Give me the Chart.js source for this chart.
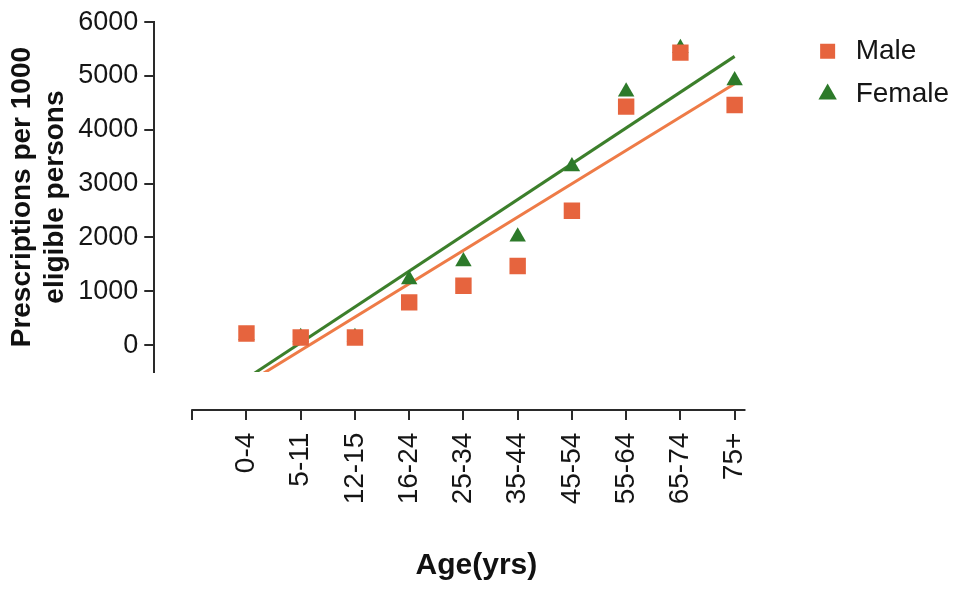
<!DOCTYPE html>
<html>
<head>
<meta charset="utf-8">
<script src="https://cdn.jsdelivr.net/npm/chart.js@4/dist/chart.umd.min.js"></script>
<style>
  html, body { margin: 0; padding: 0; background: #ffffff; }
  #wrap { width: 972px; height: 589px; position: relative; background: #ffffff; }
</style>
</head>
<body>
<div id="wrap"><canvas id="c"></canvas></div>
<script>
// ---- data ----
const categories   = ['0-4', '5-11', '12-15', '16-24', '25-34', '35-44', '45-54', '55-64', '65-74', '75+'];
const maleValues   = [215, 142, 142, 794, 1104, 1469, 2496, 4431, 5434, 4462];
const femaleValues = [185, 145, 145, 1221, 1555, 2011, 3319, 4706, 5515, 4918];
const seriesNames  = ['Male', 'Female'];
const yTickValues  = [0, 1000, 2000, 3000, 4000, 5000, 6000];
const xTickValues  = [-1, 0, 1, 2, 3, 4, 5, 6, 7, 8, 9];

// axis geometry (in data units)
const Y_MIN = -500, Y_MAX = 6000;
const X_MIN = -1.7, X_MAX = 10.18;
const X_AXIS_AT_Y = -1200;      // the detached x axis sits below the y axis
const X_AXIS_START = -1, X_AXIS_END = 9.2;

const FONT = "'Liberation Sans', Arial, Helvetica, sans-serif";
const TEXT = '#151515';
const AXIS = '#2a2a2a';
const MALE_PT = '#E6643E', MALE_LINE = '#EE7B47';
const FEMALE_PT = '#2D7A2A', FEMALE_LINE = '#3C7F2B';

function toPoints(values) { return values.map((v, i) => ({ x: i, y: v })); }

// least-squares linear regression over category index
function regression(values) {
  const n = values.length;
  const xs = values.map((_, i) => i);
  const mx = xs.reduce((a, b) => a + b, 0) / n;
  const my = values.reduce((a, b) => a + b, 0) / n;
  let sxy = 0, sxx = 0;
  for (let i = 0; i < n; i++) { sxy += (xs[i] - mx) * (values[i] - my); sxx += (xs[i] - mx) ** 2; }
  const slope = sxy / sxx;
  const intercept = my - slope * mx;
  return [0, n - 1].map(x => ({ x, y: intercept + slope * x }));
}

const xAxisLine = {
  id: 'xAxisLine',
  afterDraw(chart) {
    const xs = chart.scales.x, ys = chart.scales.y, ctx = chart.ctx;
    const y = Math.round(ys.getPixelForValue(X_AXIS_AT_Y));
    ctx.save();
    ctx.strokeStyle = AXIS;
    ctx.lineWidth = 2;
    ctx.beginPath();
    ctx.moveTo(xs.getPixelForValue(X_AXIS_START) - 1, y);
    ctx.lineTo(xs.getPixelForValue(X_AXIS_END), y);
    ctx.stroke();
    ctx.restore();
  }
};

new Chart(document.getElementById('c'), {
  type: 'scatter',
  data: {
    datasets: [
      { label: seriesNames[0], data: toPoints(maleValues), pointStyle: 'rect', pointRadius: 11.6,
        backgroundColor: MALE_PT, borderColor: MALE_PT, borderWidth: 0 },
      { label: seriesNames[1], data: toPoints(femaleValues), pointStyle: 'triangle', pointRadius: 9.5,
        backgroundColor: FEMALE_PT, borderColor: FEMALE_PT, borderWidth: 0 },
      { label: 'Male fit', data: regression(maleValues), showLine: true, pointRadius: 0,
        borderColor: MALE_LINE, borderWidth: 3, backgroundColor: MALE_LINE },
      { label: 'Female fit', data: regression(femaleValues), showLine: true, pointRadius: 0,
        borderColor: FEMALE_LINE, borderWidth: 3, backgroundColor: FEMALE_LINE }
    ]
  },
  options: {
    responsive: true,
    maintainAspectRatio: false,
    animation: false,
    events: [],
    layout: { padding: { left: 5, top: 0, right: 13, bottom: 217 } },
    plugins: {
      tooltip: { enabled: false },
      legend: {
        position: 'right',
        align: 'start',
        fullSize: false,
        labels: {
          usePointStyle: true,
          boxWidth: 28,
          boxHeight: 15,
          padding: 15,
          color: TEXT,
          font: { family: FONT, size: 28 },
          filter: item => item.datasetIndex < 2
        }
      }
    },
    scales: {
      x: {
        type: 'linear',
        position: { y: X_AXIS_AT_Y },
        min: X_MIN,
        max: X_MAX,
        afterBuildTicks: s => { s.ticks = xTickValues.map(v => ({ value: v })); },
        ticks: {
          autoSkip: false,
          minRotation: 90,
          maxRotation: 90,
          padding: 13,
          color: TEXT,
          font: { family: FONT, size: 28 },
          callback: v => (v >= 0 && v < categories.length ? categories[v] : '')
        },
        grid: { drawOnChartArea: false, drawTicks: true, tickLength: 10, color: AXIS, lineWidth: 2 },
        border: { display: false },
        title: {
          display: true, text: 'Age(yrs)', color: '#111',
          font: { family: FONT, size: 30, weight: 'bold' },
          padding: { top: 30, bottom: 0 }
        }
      },
      y: {
        type: 'linear',
        min: Y_MIN,
        max: Y_MAX,
        afterBuildTicks: s => { s.ticks = yTickValues.map(v => ({ value: v })); },
        ticks: {
          padding: 6,
          color: TEXT,
          font: { family: FONT, size: 27 },
          callback: v => String(v)
        },
        grid: { drawOnChartArea: false, drawTicks: true, tickLength: 10, color: AXIS, lineWidth: 2 },
        border: { display: true, color: AXIS, width: 2 },
        title: {
          display: true,
          text: ['Prescriptions per 1000', 'eligible persons'],
          color: '#111',
          font: { family: FONT, size: 28, weight: 'bold', lineHeight: 1.2 },
          padding: { top: 0, bottom: 0 }
        }
      }
    }
  },
  plugins: [xAxisLine]
});
</script>
</body>
</html>
